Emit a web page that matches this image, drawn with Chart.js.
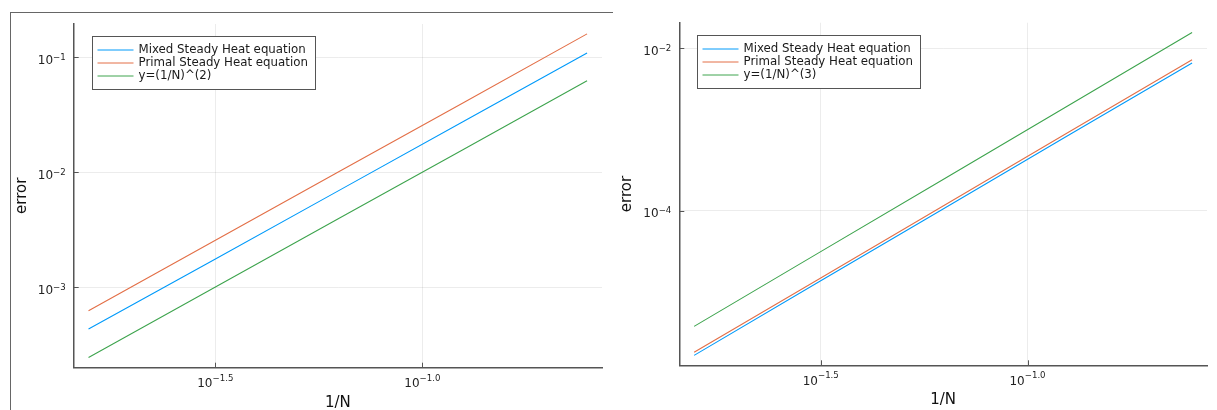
<!DOCTYPE html>
<html lang="en">
<head>
<meta charset="UTF-8">
<title>Steady heat convergence</title>
<script src="https://cdn.jsdelivr.net/npm/chart.js@4"></script>
<style>
  body { margin: 0; background: #fff; }
  .frame { position: absolute; left: 10px; top: 12px; width: 602px; height: 398px; border-left: 1px solid #666; border-top: 1px solid #666; }
  .box { position: absolute; top: 0; height: 410px; }
</style>
</head>
<body>
<div class="frame"></div>
<div class="box" style="left:0;width:605px"><canvas id="left"></canvas></div>
<div class="box" style="left:605px;width:612px"><canvas id="right"></canvas></div>
<script>
// 1/N for N = 4, 8, 16, 32, 64
var h = [0.25, 0.125, 0.0625, 0.03125, 0.015625];

// second order plot
var mixed2 = [0.109, 0.0273, 0.00684, 0.00171, 0.000431];
var primal2 = [0.160, 0.0399, 0.00997, 0.00249, 0.000622];
var ref2 = [0.0625, 0.015625, 0.00390625, 0.0009765625, 0.000244140625];

// third order plot
var mixed3 = [0.0066, 0.00084, 0.000106, 0.0000134, 0.00000168];
var primal3 = [0.00724, 0.000914, 0.000115, 0.0000145, 0.00000183];
var ref3 = [0.015625, 0.001953125, 0.000244140625, 0.000030517578125, 0.000003814697265625];

var names2 = ['Mixed Steady Heat equation', 'Primal Steady Heat equation', 'y=(1/N)^(2)'];
var names3 = ['Mixed Steady Heat equation', 'Primal Steady Heat equation', 'y=(1/N)^(3)'];
var colors = ['#009afa', '#e36f47', '#3ea44e'];

// ticks (value, exponent text)
var xTicks = [Math.pow(10, -1.5), 0.1];
var xTickExp = ['\u22121.5', '\u22121.0'];
var yTicks2 = [0.001, 0.01, 0.1];
var yTickExp2 = ['\u22123', '\u22122', '\u22121'];
var yTicks3 = [0.0001, 0.01];
var yTickExp3 = ['\u22124', '\u22122'];

var axisColor = '#555';
var gridColor = 'rgba(0,0,0,0.075)';
var fontName = '"DejaVu Sans", sans-serif';

// ticks inside, superscript labels, axis titles and the boxed legend
var decor = {
    id: 'decor',
    afterDraw: function (chart) {
        var o = chart.options.plugins.decor;
        var ctx = chart.ctx, a = chart.chartArea;
        var xs = chart.scales.x, ys = chart.scales.y;
        ctx.save();

        // tick marks
        ctx.strokeStyle = axisColor;
        ctx.lineWidth = 1;
        ctx.beginPath();
        xTicks.forEach(function (v) {
            var px = Math.round(xs.getPixelForValue(v)) + 0.5;
            ctx.moveTo(px, a.bottom);
            ctx.lineTo(px, a.bottom - 5);
        });
        o.yTicks.forEach(function (v) {
            var py = Math.round(ys.getPixelForValue(v)) + 0.5;
            ctx.moveTo(a.left, py);
            ctx.lineTo(a.left + 5, py);
        });
        ctx.stroke();

        // tick labels 10^e
        ctx.fillStyle = '#222';
        ctx.textAlign = 'left';
        ctx.textBaseline = 'alphabetic';
        var big = '12px ' + fontName, small = '8.6px ' + fontName;
        function label(x, yBase, yExp, exp, anchor) {
            ctx.font = big;
            var w1 = ctx.measureText('10').width;
            ctx.font = small;
            var w2 = ctx.measureText(exp).width;
            var x0 = anchor === 'center' ? x - (w1 + w2) / 2 : x - (w1 + w2);
            ctx.font = big;
            ctx.fillText('10', x0, yBase);
            ctx.font = small;
            ctx.fillText(exp, x0 + w1, yExp);
        }
        xTicks.forEach(function (v, i) {
            var px = xs.getPixelForValue(v);
            label(px, a.bottom + 19.5, a.bottom + 13, xTickExp[i], 'center');
        });
        o.yTicks.forEach(function (v, i) {
            var py = ys.getPixelForValue(v);
            label(a.left - 8, py + 6.5, py + 2.5, o.yExp[i], 'right');
        });

        // axis titles
        ctx.font = '15px ' + fontName;
        ctx.fillStyle = '#111';
        ctx.textAlign = 'center';
        ctx.textBaseline = 'middle';
        ctx.fillText('1/N', (a.left + a.right) / 2, a.bottom + 35);
        ctx.save();
        ctx.translate(22.5, (a.top + a.bottom) / 2);
        ctx.rotate(-Math.PI / 2);
        ctx.fillText('error', 0, 0);
        ctx.restore();

        // legend
        var bx = Math.round(a.left + 18) + 0.5, by = Math.round(a.top + 12) + 0.5;
        ctx.font = '11.8px ' + fontName;
        var maxW = 0;
        o.names.forEach(function (n) { maxW = Math.max(maxW, ctx.measureText(n).width); });
        var bw = Math.round(46 + maxW + 8), bh = 53;
        ctx.fillStyle = '#fff';
        ctx.fillRect(bx, by, bw, bh);
        ctx.strokeStyle = '#555';
        ctx.lineWidth = 1;
        ctx.strokeRect(bx, by, bw, bh);
        ctx.textAlign = 'left';
        ctx.textBaseline = 'middle';
        o.names.forEach(function (n, i) {
            var ry = by + 13.5 + i * 13;
            ctx.strokeStyle = colors[i];
            ctx.beginPath();
            ctx.moveTo(bx + 5, ry);
            ctx.lineTo(bx + 41, ry);
            ctx.stroke();
            ctx.fillStyle = '#1a1a1a';
            ctx.fillText(n, bx + 46, ry);
        });
        ctx.restore();
    }
};

function makeChart(id, series, names, yMin, yMax, yTicks, yExp, pad, yAxisW, xAxisH) {
    var datasets = series.map(function (s, i) {
        return {
            label: names[i],
            data: h.map(function (x, k) { return { x: x, y: s[k] }; }),
            borderColor: colors[i],
            borderWidth: 1.1,
            pointRadius: 0,
            fill: false,
            tension: 0
        };
    });
    return new Chart(document.getElementById(id), {
        type: 'line',
        data: { datasets: datasets },
        plugins: [decor],
        options: {
            animation: false,
            responsive: true,
            maintainAspectRatio: false,
            layout: { padding: pad },
            plugins: {
                legend: { display: false },
                tooltip: { enabled: false },
                decor: { yTicks: yTicks, yExp: yExp, names: names }
            },
            scales: {
                x: {
                    type: 'logarithmic',
                    bounds: 'data',
                    min: Math.pow(10, -1.842),
                    max: Math.pow(10, -0.566),
                    afterBuildTicks: function (s) { s.ticks = xTicks.map(function (v) { return { value: v }; }); },
                    afterFit: function (s) { s.height = xAxisH; },
                    ticks: { display: false },
                    grid: { color: gridColor, drawTicks: false },
                    border: { color: axisColor, width: 1.5 }
                },
                y: {
                    type: 'logarithmic',
                    bounds: 'data',
                    min: yMin,
                    max: yMax,
                    afterBuildTicks: function (s) { s.ticks = yTicks.map(function (v) { return { value: v }; }); },
                    afterFit: function (s) { s.width = yAxisW; },
                    ticks: { display: false },
                    grid: { color: gridColor, drawTicks: false },
                    border: { color: axisColor, width: 1.5 }
                }
            }
        }
    });
}

makeChart('left', [mixed2, primal2, ref2], names2,
    Math.pow(10, -3.702), Math.pow(10, -0.710), yTicks2, yTickExp2,
    { top: 24, right: 3, left: 0, bottom: 0 }, 73.7, 42.3);

makeChart('right', [mixed3, primal3, ref3], names3,
    Math.pow(10, -5.897), Math.pow(10, -1.686), yTicks3, yTickExp3,
    { top: 22.7, right: 10, left: 0, bottom: 0 }, 74.3, 44.7);
</script>
</body>
</html>
